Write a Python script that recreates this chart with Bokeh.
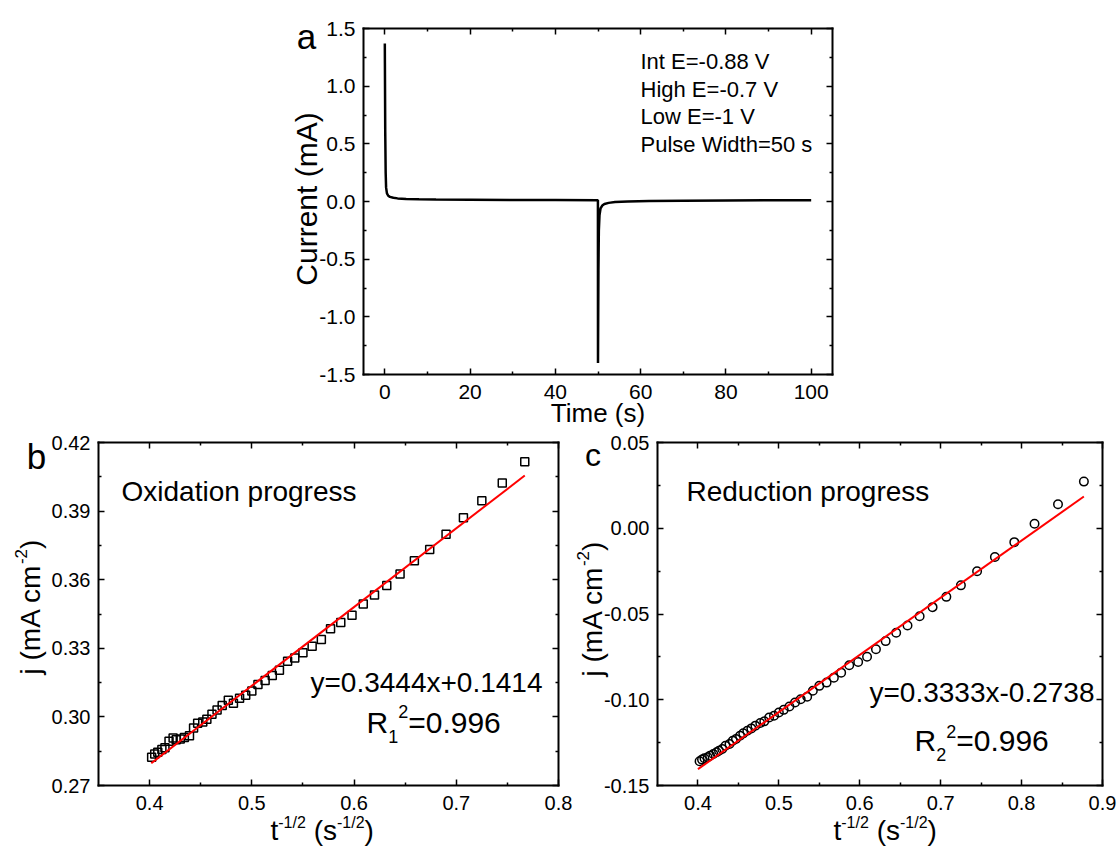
import math
from bokeh.plotting import figure
from bokeh.models import Range1d, FixedTicker, PrintfTickFormatter, LinearAxis, Label, Grid
from bokeh.layouts import column, row
from bokeh.embed import file_html
from bokeh.resources import INLINE

FONT = "Liberation Sans"

# ---------------- data ----------------
# panel a: chronoamperometry
time_s = [0, 0.02, 0.1, 0.2, 0.3, 0.5, 0.8, 1.2, 2, 3, 5, 8, 12, 20, 30, 40, 49.98,
          50, 50.02, 50.1, 50.2, 50.35, 50.6, 51, 51.5, 52.5, 54, 57, 62, 70, 80, 90, 100]
current_mA = [1.37, 1.2, 0.6, 0.25, 0.12, 0.07, 0.05, 0.04, 0.032, 0.027, 0.022, 0.019, 0.017,
              0.015, 0.013, 0.012, 0.011,
              -1.40, -1.2, -0.6, -0.25, -0.12, -0.06, -0.035, -0.022, -0.012, -0.005, 0.000,
              0.004, 0.007, 0.009, 0.010, 0.011]

# panel b: oxidation progress
x_ox = [0.767, 0.745, 0.725, 0.707, 0.690, 0.674, 0.659, 0.645, 0.632, 0.620, 0.609, 0.598,
        0.587, 0.577, 0.568, 0.559, 0.550, 0.542, 0.535, 0.527, 0.520, 0.513, 0.506, 0.500,
        0.494, 0.488, 0.482, 0.477, 0.471, 0.466, 0.461, 0.456, 0.452, 0.447, 0.443, 0.439,
        0.434, 0.430, 0.426, 0.423, 0.419, 0.415, 0.412, 0.408, 0.405, 0.402]
j_ox = [0.4116, 0.4023, 0.3945, 0.3871, 0.3799, 0.3732, 0.3683, 0.3625, 0.3575, 0.3533, 0.3494,
        0.3445, 0.3413, 0.3386, 0.3338, 0.3309, 0.3280, 0.3258, 0.3243, 0.3204, 0.3181, 0.3159,
        0.3142, 0.3113, 0.3095, 0.3082, 0.3060, 0.3073, 0.3050, 0.3030, 0.3012, 0.2990, 0.2978,
        0.2972, 0.2952, 0.2918, 0.2910, 0.2903, 0.2900, 0.2908, 0.2893, 0.2865, 0.2857, 0.2845,
        0.2838, 0.2823]
fit_ox = (0.3444, 0.1414)
fit_ox_x = [0.4016, 0.767]

# panel c: reduction progress
x_red = [0.877, 0.845, 0.816, 0.791, 0.767, 0.745, 0.725, 0.707, 0.690, 0.674, 0.659, 0.645,
         0.632, 0.620, 0.609, 0.598, 0.587, 0.577, 0.568, 0.559, 0.550, 0.542, 0.535, 0.527,
         0.520, 0.513, 0.506, 0.500, 0.494, 0.488, 0.482, 0.477, 0.471, 0.466, 0.461, 0.456,
         0.452, 0.447, 0.443, 0.439, 0.434, 0.430, 0.426, 0.423, 0.419, 0.415, 0.412, 0.408,
         0.405, 0.402]
j_red = [0.0272, 0.0140, 0.0026, -0.0081, -0.0168, -0.0251, -0.0333, -0.0400, -0.0460, -0.0513,
         -0.0567, -0.0609, -0.0658, -0.0706, -0.0749, -0.0780, -0.0799, -0.0842, -0.0871, -0.0900,
         -0.0919, -0.0948, -0.0983, -0.0997, -0.1016, -0.1039, -0.1059, -0.1074, -0.1093, -0.1103,
         -0.1126, -0.1136, -0.1151, -0.1167, -0.1181, -0.1196, -0.1210, -0.1229, -0.1239, -0.1258,
         -0.1268, -0.1287, -0.1297, -0.1306, -0.1316, -0.1326, -0.1335, -0.1341, -0.1349, -0.1359]
fit_red = (0.3333, -0.2738)
fit_red_x = [0.400, 0.877]

# axis limits and ticks
a_xlim, a_ylim = (-5, 105), (-1.5, 1.5)
b_xlim, b_ylim = (0.35, 0.8), (0.27, 0.42)
c_xlim, c_ylim = (0.35, 0.9), (-0.15, 0.05)
a_xticks = [0, 20, 40, 60, 80, 100]
a_xminor = [10, 30, 50, 70, 90]
a_yticks = [-1.5, -1.0, -0.5, 0.0, 0.5, 1.0, 1.5]
a_yminor = [-1.25, -0.75, -0.25, 0.25, 0.75, 1.25]
b_xticks = [0.4, 0.5, 0.6, 0.7, 0.8]
b_xminor = [0.45, 0.55, 0.65, 0.75]
b_yticks = [0.27, 0.30, 0.33, 0.36, 0.39, 0.42]
b_yminor = [0.285, 0.315, 0.345, 0.375, 0.405]
c_xticks = [0.4, 0.5, 0.6, 0.7, 0.8, 0.9]
c_xminor = [0.45, 0.55, 0.65, 0.75, 0.85]
c_yticks = [-0.15, -0.10, -0.05, 0.00, 0.05]
c_yminor = [-0.125, -0.075, -0.025, 0.025]

# ---------------- helpers ----------------
CW = {'.': .278, '-': .333, '/': .278, '(': .333, ')': .333, ' ': .278, 't': .278, 's': .5,
      'j': .222, 'm': .833, 'A': .667, 'c': .5, 'R': .722, '=': .584, 'x': .5, 'y': .5, '+': .584}
MID = 0.33  # distance (in em) from baseline up to the middle of the text box


def tw(s, size):
    return sum(CW.get(ch, .556) for ch in s) * size


class Geo:
    """canvas = (left, top, w, h) of the figure on the page; box = visible axes box on the page."""

    def __init__(self, canvas, box, xlim, ylim):
        cx, cy, cw, ch = canvas
        bx, by, bw, bh = box
        self.cw, self.ch = cw, ch
        self.xlim, self.ylim = xlim, ylim
        self.bx, self.by, self.bh = bx, by, bh
        self.kx = bw / (xlim[1] - xlim[0])
        self.ky = bh / (ylim[1] - ylim[0])
        self.xr = (xlim[0] - (bx - cx) / self.kx, xlim[1] + (cx + cw - bx - bw) / self.kx)
        self.yr = (ylim[0] - (cy + ch - by - bh) / self.ky, ylim[1] + (by - cy) / self.ky)

    def x(self, sx):
        return self.xlim[0] + (sx - self.bx) / self.kx

    def y(self, sy):
        return self.ylim[0] + (self.by + self.bh - sy) / self.ky


def label(p, g, sx, sy, text, size, align="left", angle=0.0):
    p.add_layout(Label(x=g.x(sx), y=g.y(sy), text=text, text_font=FONT,
                       text_font_size=f"{size}px", text_align=align, text_baseline="middle",
                       text_color="black", angle=angle))


def htext(p, g, sx, base, text, size, align="left"):
    """horizontal text, given its baseline on the page"""
    label(p, g, sx, base - MID * size, text, size, align)


def vtext(p, g, base, sy, text, size, align="left"):
    """text rotated to read upwards, given its baseline x on the page"""
    label(p, g, base - MID * size, sy, text, size, align, angle=math.pi / 2)


def pieces_h(p, g, sx, base, pieces):
    adv = 0.0
    for text, size, rise in pieces:
        lead = len(text) - len(text.lstrip(" "))
        adv += tw(" " * lead, size)
        text = text.lstrip(" ")
        htext(p, g, sx + adv, base - rise, text, size)
        adv += tw(text, size)


def pieces_v(p, g, base, sy, pieces):
    adv = 0.0
    for text, size, rise in pieces:
        lead = len(text) - len(text.lstrip(" "))
        adv += tw(" " * lead, size)
        text = text.lstrip(" ")
        vtext(p, g, base - rise, sy - adv, text, size)
        adv += tw(text, size)


def make_fig(g, xt, xm, xf, yt, ym, yf, tsize):
    p = figure(width=g.cw, height=g.ch, x_range=Range1d(*g.xr), y_range=Range1d(*g.yr),
               min_border=0, title=None, x_axis_location=None, y_axis_location=None,
               toolbar_location=None, output_backend="svg")
    p.outline_line_color = None
    p.background_fill_color = "white"
    p.border_fill_color = "white"
    for r in list(p.center):
        if isinstance(r, Grid):
            r.visible = False
    specs = [("below", xt, xm, xf, g.ylim[0], g.xlim, True),
             ("above", xt, xm, xf, g.ylim[1], g.xlim, False),
             ("left", yt, ym, yf, g.xlim[0], g.ylim, True),
             ("right", yt, ym, yf, g.xlim[1], g.ylim, False)]
    for side, ticks, minor, fmt, loc, bounds, show in specs:
        ax = LinearAxis(fixed_location=loc, bounds=bounds)
        ax.ticker = FixedTicker(ticks=ticks, minor_ticks=minor)
        ax.formatter = PrintfTickFormatter(format=fmt)
        ax.axis_line_color = "black"
        ax.axis_line_width = 2
        ax.axis_line_cap = "square"
        ax.major_tick_in = 6
        ax.major_tick_out = 0
        ax.minor_tick_in = 3
        ax.minor_tick_out = 0
        ax.major_tick_line_width = 1.5
        ax.minor_tick_line_width = 1.5
        ax.major_tick_line_color = "black"
        ax.minor_tick_line_color = "black"
        ax.major_label_text_font = FONT
        ax.major_label_text_font_size = tsize
        ax.major_label_standoff = 8 if side == "left" else 10
        ax.major_label_text_color = "black" if show else None
        p.add_layout(ax, side)
    return p


# ---------------- panel a ----------------
ga = Geo((0, 0, 1118, 432), (363, 28, 469, 346), a_xlim, a_ylim)
pa = make_fig(ga, a_xticks, a_xminor, "%d", a_yticks, a_yminor, "%.1f", "21px")
pa.line(time_s, current_mA, line_color="black", line_width=2.5)
htext(pa, ga, 306, 48, "a", 35, align="center")
for txt, base in zip(["Int E=-0.88 V", "High E=-0.7 V", "Low E=-1 V", "Pulse Width=50 s"],
                     [68.3, 95.8, 123.3, 151.3]):
    htext(pa, ga, 640, base, txt, 22)
htext(pa, ga, 597.5, 421, "Time (s)", 26, align="center")
vtext(pa, ga, 316, 198.5, "Current (mA)", 30, align="center")

# ---------------- panel b ----------------
gb = Geo((0, 432, 574, 414), (98, 442, 460, 343), b_xlim, b_ylim)
pb = make_fig(gb, b_xticks, b_xminor, "%.1f", b_yticks, b_yminor, "%.2f", "20px")
pb.scatter(x_ox, j_ox, marker="square", size=8, line_color="black", line_width=1.5,
           fill_color=None)
pb.line(fit_ox_x, [fit_ox[0] * v + fit_ox[1] for v in fit_ox_x], line_color="#ff0000",
        line_width=2)
htext(pb, gb, 36, 468, "b", 35, align="center")
htext(pb, gb, 121, 500, "Oxidation progress", 28)
htext(pb, gb, 310, 691, "y=0.3444x+0.1414", 28)
pieces_h(pb, gb, 366, 731.7, [("R", 30, 0), ("1", 18, -10), ("2", 18, 15), ("=0.996", 30, 0)])
pieces_h(pb, gb, 270, 839, [("t", 28, 0), ("-1/2", 16, 12), (" (s", 28, 0), ("-1/2", 16, 12),
                            (")", 28, 0)])
pieces_v(pb, gb, 39, 674, [("j (mA cm", 28, 0), ("-2", 17, 13), (")", 28, 0)])

# ---------------- panel c ----------------
gc = Geo((574, 432, 544, 414), (657, 442, 445, 343), c_xlim, c_ylim)
pc = make_fig(gc, c_xticks, c_xminor, "%.1f", c_yticks, c_yminor, "%.2f", "20px")
pc.scatter(x_red, j_red, marker="circle", size=8.5, line_color="black", line_width=1.5,
           fill_color=None)
pc.line(fit_red_x, [fit_red[0] * v + fit_red[1] for v in fit_red_x], line_color="#ff0000",
        line_width=2)
htext(pc, gc, 592.5, 465, "c", 32, align="center")
htext(pc, gc, 686, 500, "Reduction progress", 28)
htext(pc, gc, 869, 701.7, "y=0.3333x-0.2738", 28)
pieces_h(pc, gc, 914, 750, [("R", 30, 0), ("2", 18, -10), ("2", 18, 13), ("=0.996", 30, 0)])
pieces_h(pc, gc, 833, 839, [("t", 28, 0), ("-1/2", 16, 12), (" (s", 28, 0), ("-1/2", 16, 12),
                            (")", 28, 0)])
pieces_v(pc, gc, 601, 676, [("j (mA cm", 28, 0), ("-2", 17, 13), (")", 28, 0)])

layout = column(pa, row(pb, pc))
open("out.html", "w").write(file_html(layout, INLINE, title="chart"))
